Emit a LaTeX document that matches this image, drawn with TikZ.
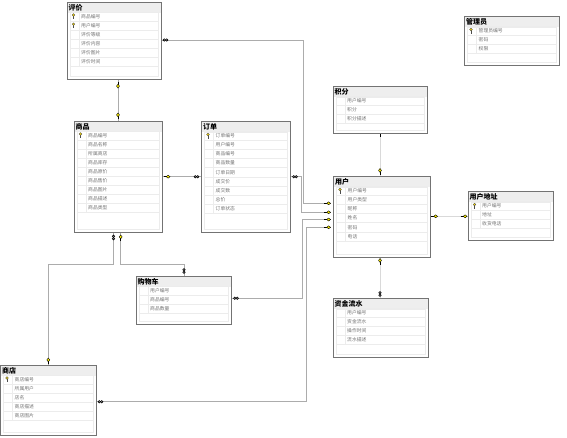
\documentclass[tikz,border=0pt]{standalone}
\usepackage{fontspec}
\setmainfont{Noto Sans CJK SC}
\newcommand\pkicon[2]{%
  \begin{scope}[shift={(#1,#2)}]
    \draw[black!70, line width=0.4pt] (0,-0.5) -- (0,3);
    \draw[black!70, line width=0.3pt, fill=yellow!80!orange] (0,-1.3) circle (1.3);
  \end{scope}}
\newcommand\relkey[3]{%
  \begin{scope}[shift={(#1,#2)}, rotate=#3]
    \draw[black, line width=0.7pt] (-3.3,0) -- (0,0);
    \draw[black, line width=0.4pt, fill=yellow] (1.1,0) ellipse (1.9 and 1.5);
  \end{scope}}
\newcommand\relmany[3]{%
  \begin{scope}[shift={(#1,#2)}, rotate=#3]
    \draw[black, line width=0.6pt] (-1.2,0) circle (1.2) (1.2,0) circle (1.2);
  \end{scope}}
\newcommand\erdtable[7]{%
  \fill[white] (#1,#2) rectangle (#3,#4);
  \fill[gray!13] (#1,#2) rectangle (#3,#2+10.5);
  \draw[rowcell] (#1+3,#2+10.5) rectangle (#3-3,#4-3);
  \foreach \kk/\fname [count=\ii from 0] in {#6} {
    \pgfmathsetmacro\yy{#2+14.3+9.1*\ii}
    \draw[rowcell] (#1+3,\yy-4.55) rectangle (#3-3,\yy+4.55);
    \draw[rowcell] (#1+12,\yy-4.55) -- (#1+12,\yy+4.55);
    \node[rowtext] (#7-\ii) at (#1+14,\yy) {\fname};
    \ifnum\kk=1 \pkicon{#1+6.5}{\yy}\fi
  }
  \draw[frame] (#1,#2) rectangle (#3,#4);
  \node[titletext] (#7) at (#1+1.5,#2+5.5) {#5};
}
\begin{document}
\begin{tikzpicture}[x=1pt,y=-1pt,
  conn/.style={draw=gray!65, line width=1pt},
  faint/.style={draw=gray!30, line width=0.9pt},
  rowcell/.style={draw=gray!15, line width=0.5pt},
  frame/.style={draw=black!55, line width=0.8pt},
  titletext/.style={font=\fontsize{7}{7}\selectfont\bfseries, anchor=west, inner sep=0pt},
  rowtext/.style={font=\fontsize{4.8}{5}\selectfont, text=black!55, anchor=west, inner sep=0pt},
]
\useasboundingbox[fill=white] (0,0) rectangle (567,437);

% ---------- connectors ----------
% 评价 -> 用户
\coordinate (a0) at (161,40);
\coordinate (a1) at (303.5,40);
\coordinate (a2) at (331,203.3);
\draw[conn] (a0) -- (a1) |- (a2);
% 订单 -> 用户
\coordinate (b0) at (290.5,176.7);
\coordinate (b1) at (301,176.7);
\coordinate (b2) at (331,212.3);
\draw[conn] (b0) -- (b1) |- (b2);
% 购物车 -> 用户
\coordinate (c0) at (231,298.3);
\coordinate (c1) at (302.2,298.3);
\coordinate (c2) at (331,219.5);
\draw[conn] (c0) -- (c1) |- (c2);
% 商店 -> 用户
\coordinate (d0) at (96,401.7);
\coordinate (d1) at (306,401.7);
\coordinate (d2) at (331,227.3);
\draw[conn] (d0) -- (d1) |- (d2);
% 商品 -> 订单
\coordinate (e0) at (162,176.7);
\coordinate (e1) at (201.5,176.7);
\draw[conn] (e0) -- (e1);
% 积分 -> 用户
\coordinate (f0) at (380,133.5);
\coordinate (f1) at (380,176.5);
\draw[faint] (f0) -- (f1);
% 用户 -> 用户地址
\coordinate (g0) at (430,216.3);
\coordinate (g1) at (468,216.3);
\draw[faint] (g0) -- (g1);
% 用户 -> 资金流水
\coordinate (h0) at (380,257);
\coordinate (h1) at (380,298.5);
\draw[faint] (h0) -- (h1);
% 评价 -> 商品
\coordinate (i0) at (118,79.5);
\coordinate (i1) at (118,121);
\draw[conn] (i0) -- (i1);
% 商品 -> 商店
\coordinate (j0) at (113.5,232.5);
\coordinate (j1) at (113.5,264);
\coordinate (j2) at (48.3,264);
\coordinate (j3) at (48.3,365);
\draw[conn] (j0) -- (j1) -- (j2) -- (j3);
% 商品 -> 购物车
\coordinate (k0) at (120.7,232.5);
\coordinate (k1) at (120.7,264);
\coordinate (k2) at (184,264);
\coordinate (k3) at (184,276);
\draw[conn] (k0) -- (k1) -- (k2) -- (k3);

% ---------- tables ----------
\erdtable{67}{2}{161}{79.5}{评价}{1/商品编号,1/用户编号,0/评价等级,0/评价内容,0/评价图片,0/评价时间}{pj}
\erdtable{74}{121}{162}{232.5}{商品}{1/商品编号,0/商品名称,0/所属商店,0/商品库存,0/商品原价,0/商品售价,0/商品图片,0/商品描述,0/商品类型}{sp}
\erdtable{201.5}{121.5}{290.5}{232.5}{订单}{1/订单编号,0/用户编号,0/商品编号,0/商品数量,0/订单日期,0/成交价,0/成交数,0/总价,0/订单状态}{dd}
\erdtable{464.5}{16.5}{559}{65.5}{管理员}{1/管理员编号,0/密码,0/权限}{gly}
\erdtable{333}{86.5}{427.5}{133.5}{积分}{0/用户编号,0/积分,0/积分描述}{jf}
\erdtable{333.5}{176.5}{430}{257}{用户}{1/用户编号,0/用户类型,0/昵称,0/姓名,0/密码,0/电话}{yh}
\erdtable{468}{191.5}{553}{240}{用户地址}{1/用户编号,0/地址,0/收货电话}{dz}
\erdtable{136}{276}{231}{324.5}{购物车}{0/用户编号,0/商品编号,0/商品数量}{gwc}
\erdtable{333}{298.5}{428}{357}{资金流水}{0/用户编号,0/资金流水,0/操作时间,0/流水描述}{zj}
\erdtable{0.5}{365}{96}{435}{商店}{1/商店编号,0/所属用户,0/店名,0/商店描述,0/商店图片}{sd}

% ---------- markers ----------
\relmany{165.5}{40}{0}
\relkey{327.5}{203.3}{0}
\relmany{295}{176.7}{0}
\relkey{327.5}{212.3}{0}
\relmany{236}{298.3}{0}
\relkey{327.5}{219.5}{0}
\relmany{100.5}{401.7}{0}
\relkey{327.5}{227.3}{0}
\relkey{167}{176.7}{0}
\relmany{196.5}{176.7}{0}
\relkey{380}{171.5}{90}
\draw[black, line width=0.7pt] (380,134) -- (380,137);
\relkey{434.5}{216.3}{0}
\relkey{464}{216.3}{0}
\relkey{380}{261.5}{90}
\relmany{380}{294}{90}
\relkey{118}{85}{-90}
\relkey{118}{116}{90}
\relmany{113.5}{237.5}{90}
\relkey{48.3}{361}{90}
\relkey{120.7}{238}{90}
\relmany{184}{271}{90}
\end{tikzpicture}
\end{document}
